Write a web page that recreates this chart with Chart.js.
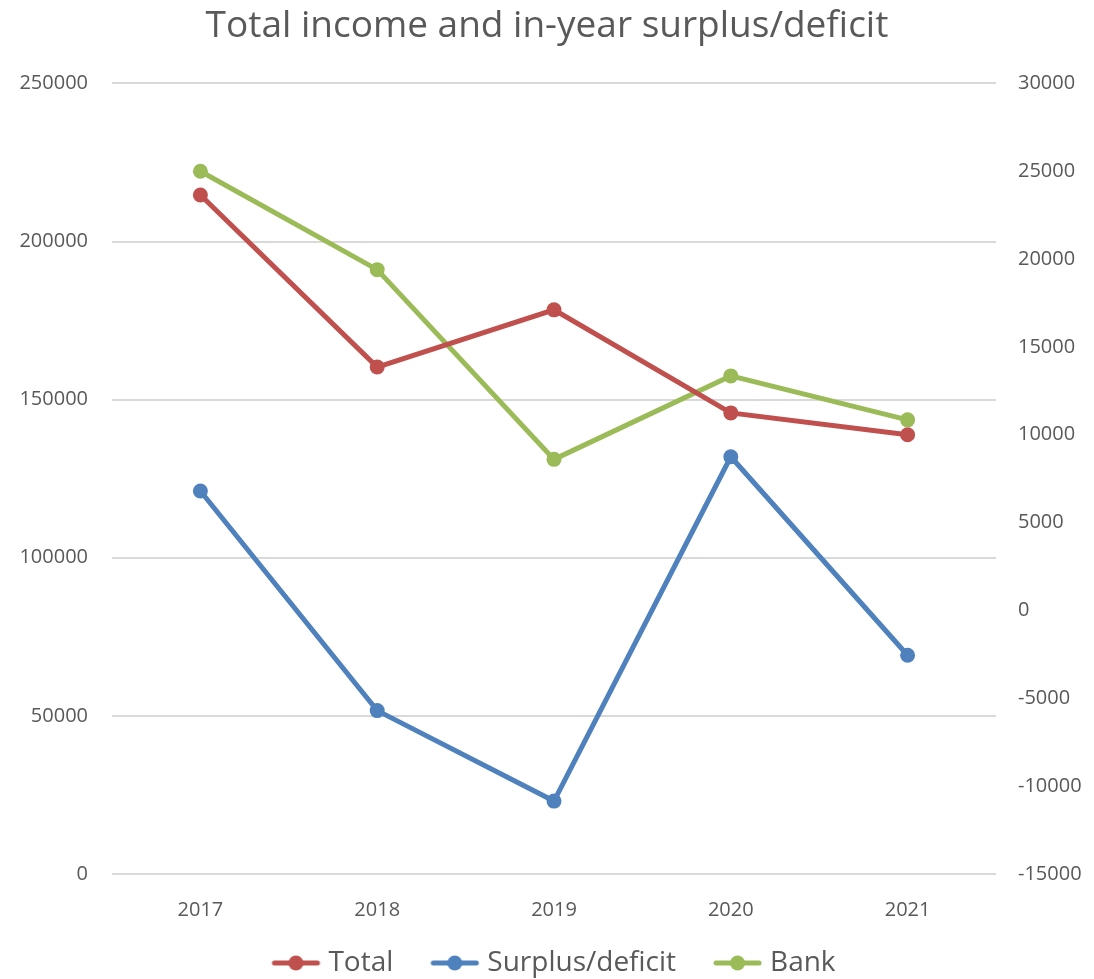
<!DOCTYPE html>
<html>
<head>
<meta charset="utf-8">
<script src="https://cdn.jsdelivr.net/npm/chart.js@4"></script>
<style>
  html, body { margin: 0; padding: 0; background: #fff; }
  #wrap { width: 1094px; height: 979px; overflow: hidden; }
</style>
</head>
<body>
<div id="wrap"><canvas id="incomeChart" width="1094" height="979"></canvas></div>
<script>
// 데이터
const years = ['2017', '2018', '2019', '2020', '2021'];
const totalIncome = [214700, 160300, 178400, 145800, 138900];
const surplusDeficit = [6800, -5700, -10850, 8750, -2550];
const bankBalance = [25000, 19400, 8600, 13350, 10850];

const fontFamily = "'Open Sans', 'Liberation Sans', sans-serif";
const textColor = '#595959';

// 범례용 선+점 아이콘 (상자보다 조금 넓게 그려 글자와 가깝게)
function legendIcon(color) {
    const c = document.createElement('canvas');
    c.width = 70; c.height = 18;
    const g = c.getContext('2d');
    g.strokeStyle = color;
    g.lineWidth = 5;
    g.lineCap = 'round';
    g.beginPath();
    g.moveTo(23, 9); g.lineTo(66, 9);
    g.stroke();
    g.fillStyle = color;
    g.beginPath();
    g.arc(44.5, 9, 7.5, 0, Math.PI * 2);
    g.fill();
    return c;
}

function lineSet(label, data, color, axis) {
    return {
        label: label,
        data: data,
        yAxisID: axis,
        borderColor: color,
        backgroundColor: color,
        borderWidth: 5,
        pointStyle: 'circle',
        pointRadius: 7.5,
        pointHoverRadius: 7.5,
        pointBackgroundColor: color,
        pointBorderWidth: 0,
        tension: 0
    };
}

const plainTick = v => String(v);

const ctx = document.getElementById('incomeChart').getContext('2d');
new Chart(ctx, {
    type: 'line',
    data: {
        labels: years,
        datasets: [
            lineSet('Total', totalIncome, '#C0504D', 'y'),
            lineSet('Surplus/deficit', surplusDeficit, '#4F81BD', 'y1'),
            lineSet('Bank', bankBalance, '#9BBB59', 'y1')
        ]
    },
    options: {
        responsive: false,
        animation: false,
        layout: { padding: { top: 4, bottom: -8 } },
        plugins: {
            title: {
                display: true,
                text: 'Total income and in-year surplus/deficit',
                color: textColor,
                font: { family: fontFamily, size: 37, weight: 'normal' },
                padding: { top: 0, bottom: 35 }
            },
            legend: {
                position: 'bottom',
                labels: {
                    usePointStyle: true,
                    pointStyleWidth: 56,
                    color: textColor,
                    font: { family: fontFamily, size: 28 },
                    padding: 24,
                    generateLabels: chart => Chart.defaults.plugins.legend.labels.generateLabels(chart).map(item => {
                        item.pointStyle = legendIcon(chart.data.datasets[item.datasetIndex].borderColor);
                        return item;
                    })
                }
            },
            tooltip: { enabled: false }
        },
        scales: {
            x: {
                offset: true,
                grid: { display: false },
                border: { display: false },
                ticks: { color: textColor, font: { family: fontFamily, size: 20 }, padding: 16 },
                afterFit: s => { s.height = 51; }
            },
            y: {
                position: 'left',
                min: 0,
                max: 250000,
                grid: { color: '#D9D9D9', lineWidth: 2, drawTicks: false },
                border: { display: false },
                ticks: { stepSize: 50000, color: textColor, font: { family: fontFamily, size: 20 }, padding: 24, callback: plainTick },
                afterFit: s => { s.width = 112; }
            },
            y1: {
                position: 'right',
                min: -15000,
                max: 30000,
                grid: { display: false, drawTicks: false },
                border: { display: false },
                ticks: { stepSize: 5000, color: textColor, font: { family: fontFamily, size: 20 }, padding: 22, callback: plainTick },
                afterFit: s => { s.width = 98; }
            }
        }
    }
});
</script>
</body>
</html>
